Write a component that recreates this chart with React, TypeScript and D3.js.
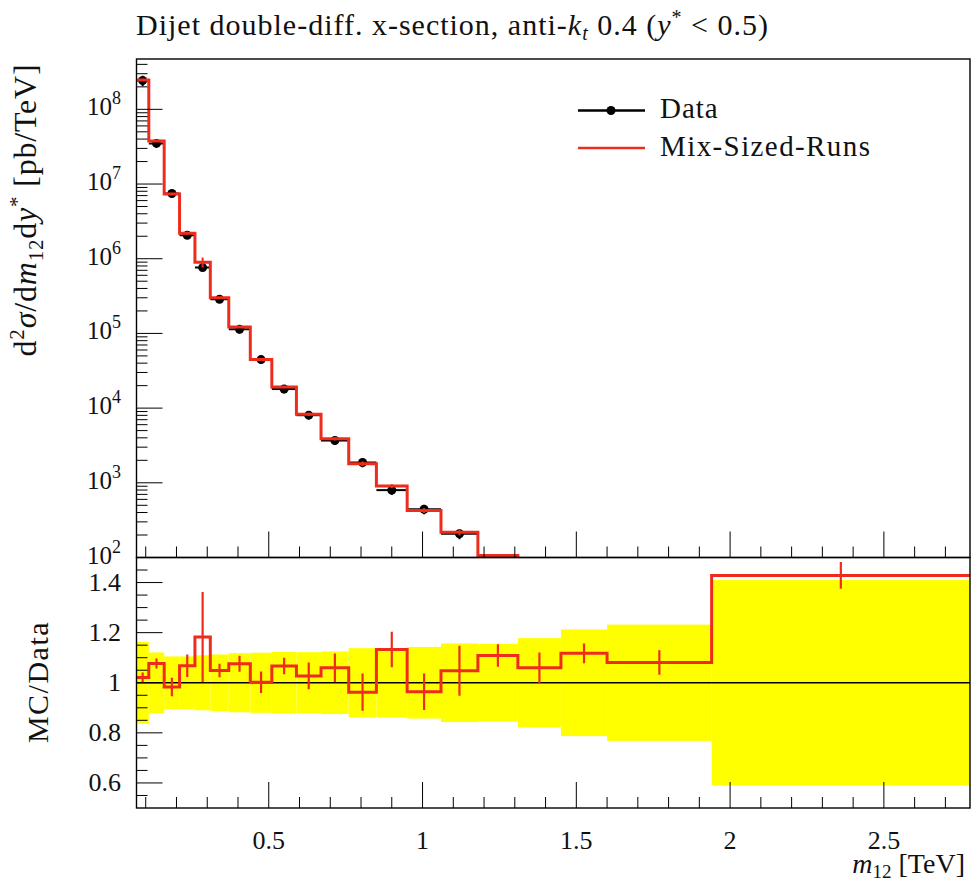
import React from "react";
import * as d3 from "d3";

// ---- data ----
const binEdges = [0.07, 0.11, 0.16, 0.21, 0.26, 0.31, 0.37, 0.44, 0.51, 0.59, 0.67, 0.76, 0.85, 0.95, 1.06, 1.18, 1.31, 1.45, 1.6, 1.94, 2.78];
const dataValues = [2.43e8, 3.5e7, 7.48e6, 2.06e6, 7.61e5, 2.87e5, 1.134e5, 4.46e4, 1.8e4, 8.04e3, 3.68e3, 1.87e3, 798, 443, 208, 95.6, 45.3, 17.9, 5.09, 0.245];
const dataRelErr = [0.163, 0.121, 0.105, 0.105, 0.11, 0.113, 0.118, 0.12, 0.123, 0.122, 0.125, 0.138, 0.138, 0.143, 0.157, 0.155, 0.178, 0.213, 0.232, 0.41];
const mcValues = [2.48e8, 3.77e7, 7.35e6, 2.2e6, 9.0e5, 3.01e5, 1.22e5, 4.47e4, 1.92e4, 8.26e3, 3.9e3, 1.8e3, 904, 427, 218, 106, 48, 20, 5.5, 0.35];
const mcRatioErr = [0.02, 0.02, 0.037, 0.045, 0.18, 0.027, 0.032, 0.043, 0.033, 0.053, 0.057, 0.074, 0.071, 0.073, 0.1, 0.045, 0.061, 0.039, 0.049, 0.053];

const xTicks = [0.5, 1, 1.5, 2, 2.5];
const xTickLabels = ["0.5", "1", "1.5", "2", "2.5"];
const ratioTicks = [0.6, 0.8, 1, 1.2, 1.4];
const ratioTickLabels = ["0.6", "0.8", "1", "1.2", "1.4"];
const logTickExponents = [2, 3, 4, 5, 6, 7, 8];

const FONT = "Liberation Serif";
const RED = "#ef2c1c";

export default function App() {
  const left = 136.5, right = 970;
  const upTop = 59, upBottom = 557.5;
  const rTop = 557.5, rBottom = 808;

  const x = d3.scaleLinear().domain([0.07, 2.78]).range([left, right]);
  const y = d3.scaleLog().domain([100, Math.pow(10, 8.674)]).range([upBottom, upTop]);
  const yr = d3.scaleLinear().domain([0.5, 1.5]).range([rBottom, rTop]);

  const n = mcValues.length;
  const centers = d3.range(n).map((i) => (binEdges[i] + binEdges[i + 1]) / 2);
  const ratio = d3.range(n).map((i) => mcValues[i] / dataValues[i]);

  const stepPts = (vals: number[], ys: (v: number) => number) => {
    const pts: [number, number][] = [];
    vals.forEach((v, i) => {
      pts.push([x(binEdges[i]), ys(v)]);
      pts.push([x(binEdges[i + 1]), ys(v)]);
    });
    return d3.line()(pts) || "";
  };

  const ySafe = (v: number) => (v > 0 ? y(v) : 2000);
  const mcPath = stepPts(mcValues, ySafe);
  const ratioPath = stepPts(ratio, (v) => yr(v));

  // ticks
  const xMinor = d3.range(1, 28).map((k) => k / 10).filter((t) => t >= 0.07 && t <= 2.78 && Math.abs(t * 2 - Math.round(t * 2)) > 1e-6);
  const logMinor: number[] = [];
  for (let e = 2; e <= 8; e++) for (let m = 2; m <= 9; m++) {
    const v = m * Math.pow(10, e);
    if (v <= Math.pow(10, 8.674)) logMinor.push(v);
  }
  const rMinor = d3.range(11, 30).map((k) => k * 0.05).filter((t) => Math.abs(t * 5 - Math.round(t * 5)) > 1e-6 && t > 0.5 && t < 1.5);

  const MAJ = 26, MIN = 11;

  return (
    <svg width={972} height={884} style={{ display: "block", position: "absolute", left: 0, top: 0 }} fontFamily={FONT}>
      <defs>
        <clipPath id="clipUp"><rect x={left} y={upTop} width={right - left} height={upBottom - upTop} /></clipPath>
        <clipPath id="clipR"><rect x={left} y={rTop} width={right - left} height={rBottom - rTop} /></clipPath>
      </defs>
      <rect width={972} height={884} fill="white" />

      {/* Title */}
      <text x={136} y={35} fontSize={30} letterSpacing={1} fill="#111">
        Dijet double-diff. x-section, anti-<tspan fontStyle="italic">k</tspan><tspan fontStyle="italic" fontSize={20} dy={5}>t</tspan><tspan dy={-5}>{" "}0.4 (</tspan><tspan fontStyle="italic">y</tspan><tspan fontSize={20} dy={-11}>*</tspan><tspan dy={11}>{" "}&lt; 0.5)</tspan>
      </text>

      {/* ---------- Upper panel ---------- */}
      <g clipPath="url(#clipUp)">
        {dataValues.map((v, i) => (
          <g key={"d" + i} stroke="#000" strokeWidth={2}>
            <line x1={x(binEdges[i])} x2={x(binEdges[i + 1])} y1={ySafe(v)} y2={ySafe(v)} />
            <line x1={x(centers[i])} x2={x(centers[i])} y1={ySafe(v * (1 - dataRelErr[i]))} y2={ySafe(v * (1 + dataRelErr[i]))} />
            <circle cx={x(centers[i])} cy={ySafe(v)} r={4.5} fill="#000" stroke="none" />
          </g>
        ))}
        <path d={mcPath} fill="none" stroke={RED} strokeWidth={3} />
        {mcValues.map((v, i) => {
          const rel = mcRatioErr[i] / ratio[i];
          return <line key={"me" + i} x1={x(centers[i])} x2={x(centers[i])} y1={ySafe(v * (1 - rel))} y2={ySafe(v * (1 + rel))} stroke={RED} strokeWidth={2} />;
        })}
      </g>

      <g stroke="#000" strokeWidth={1}>
        {logTickExponents.map((e) => (
          <line key={"ly" + e} x1={left} x2={left + MAJ} y1={y(Math.pow(10, e))} y2={y(Math.pow(10, e))} />
        ))}
        {logMinor.map((v, i) => (
          <line key={"lm" + i} x1={left} x2={left + MIN} y1={y(v)} y2={y(v)} />
        ))}
        {xTicks.map((t) => (
          <line key={"ux" + t} x1={x(t)} x2={x(t)} y1={upBottom} y2={upBottom - MAJ} />
        ))}
        {xMinor.map((t) => (
          <line key={"uxm" + t} x1={x(t)} x2={x(t)} y1={upBottom} y2={upBottom - MIN} />
        ))}
      </g>
      <rect x={left} y={upTop} width={right - left} height={upBottom - upTop} fill="none" stroke="#000" strokeWidth={1.4} />

      {logTickExponents.map((e) => (
        <text key={"lt" + e} x={121} y={y(Math.pow(10, e)) + 6} fontSize={25} textAnchor="end" fill="#111">
          10<tspan fontSize={18} dy={-11}>{e}</tspan>
        </text>
      ))}

      {/* y label upper */}
      <text transform="translate(36,210) rotate(-90)" fontSize={32} letterSpacing={0.8} textAnchor="middle" fill="#111">
        d<tspan fontSize={21} dy={-12}>2</tspan><tspan dy={12} fontStyle="italic">σ</tspan>/d<tspan fontStyle="italic">m</tspan><tspan fontSize={21} dy={7}>12</tspan><tspan dy={-7}>d</tspan><tspan fontStyle="italic">y</tspan><tspan fontSize={21} dy={-12}>*</tspan><tspan dy={12}>{" "}[pb/TeV]</tspan>
      </text>

      {/* legend */}
      <line x1={578} x2={645} y1={110.5} y2={110.5} stroke="#000" strokeWidth={2.5} />
      <circle cx={611} cy={110.5} r={4.5} fill="#000" />
      <text x={660} y={118} fontSize={29} letterSpacing={1} fill="#111">Data</text>
      <line x1={578} x2={645} y1={148} y2={148} stroke={RED} strokeWidth={2.5} />
      <text x={660} y={156} fontSize={29} letterSpacing={1.4} fill="#111">Mix-Sized-Runs</text>

      {/* ---------- Ratio panel ---------- */}
      <g clipPath="url(#clipR)">
        {dataRelErr.map((e, i) => (
          <rect key={"b" + i} x={x(binEdges[i])} width={x(binEdges[i + 1]) - x(binEdges[i])} y={yr(1 + e)} height={yr(1 - e) - yr(1 + e)} fill="#ffff00" />
        ))}
        <line x1={left} x2={right} y1={yr(1)} y2={yr(1)} stroke="#000" strokeWidth={1.3} />
        <path d={ratioPath} fill="none" stroke={RED} strokeWidth={3} />
        {ratio.map((r, i) => (
          <line key={"re" + i} x1={x(centers[i])} x2={x(centers[i])} y1={yr(r - mcRatioErr[i])} y2={yr(r + mcRatioErr[i])} stroke={RED} strokeWidth={2.2} />
        ))}
      </g>

      <g stroke="#000" strokeWidth={1}>
        {ratioTicks.map((t) => (
          <line key={"ry" + t} x1={left} x2={left + MAJ} y1={yr(t)} y2={yr(t)} />
        ))}
        {rMinor.map((t) => (
          <line key={"rym" + t} x1={left} x2={left + MIN} y1={yr(t)} y2={yr(t)} />
        ))}
        {xTicks.map((t) => (
          <line key={"rx" + t} x1={x(t)} x2={x(t)} y1={rBottom} y2={rBottom - MAJ} />
        ))}
        {xMinor.map((t) => (
          <line key={"rxm" + t} x1={x(t)} x2={x(t)} y1={rBottom} y2={rBottom - MIN} />
        ))}
      </g>
      <rect x={left} y={rTop} width={right - left} height={rBottom - rTop} fill="none" stroke="#000" strokeWidth={1.4} />

      {ratioTicks.map((t, i) => (
        <text key={"rt" + t} x={121} y={yr(t) + 8} fontSize={26} textAnchor="end" fill="#111">{ratioTickLabels[i]}</text>
      ))}
      {xTicks.map((t, i) => (
        <text key={"xt" + t} x={x(t)} y={849} fontSize={26} textAnchor="middle" fill="#111">{xTickLabels[i]}</text>
      ))}

      <text transform="translate(48,682) rotate(-90)" fontSize={30} letterSpacing={1.5} textAnchor="middle" fill="#111">MC/Data</text>

      <text x={965} y={873} fontSize={28} textAnchor="end" fill="#111">
        <tspan fontStyle="italic">m</tspan><tspan fontSize={19} dy={5}>12</tspan><tspan dy={-5}>{" "}[TeV]</tspan>
      </text>
    </svg>
  );
}
